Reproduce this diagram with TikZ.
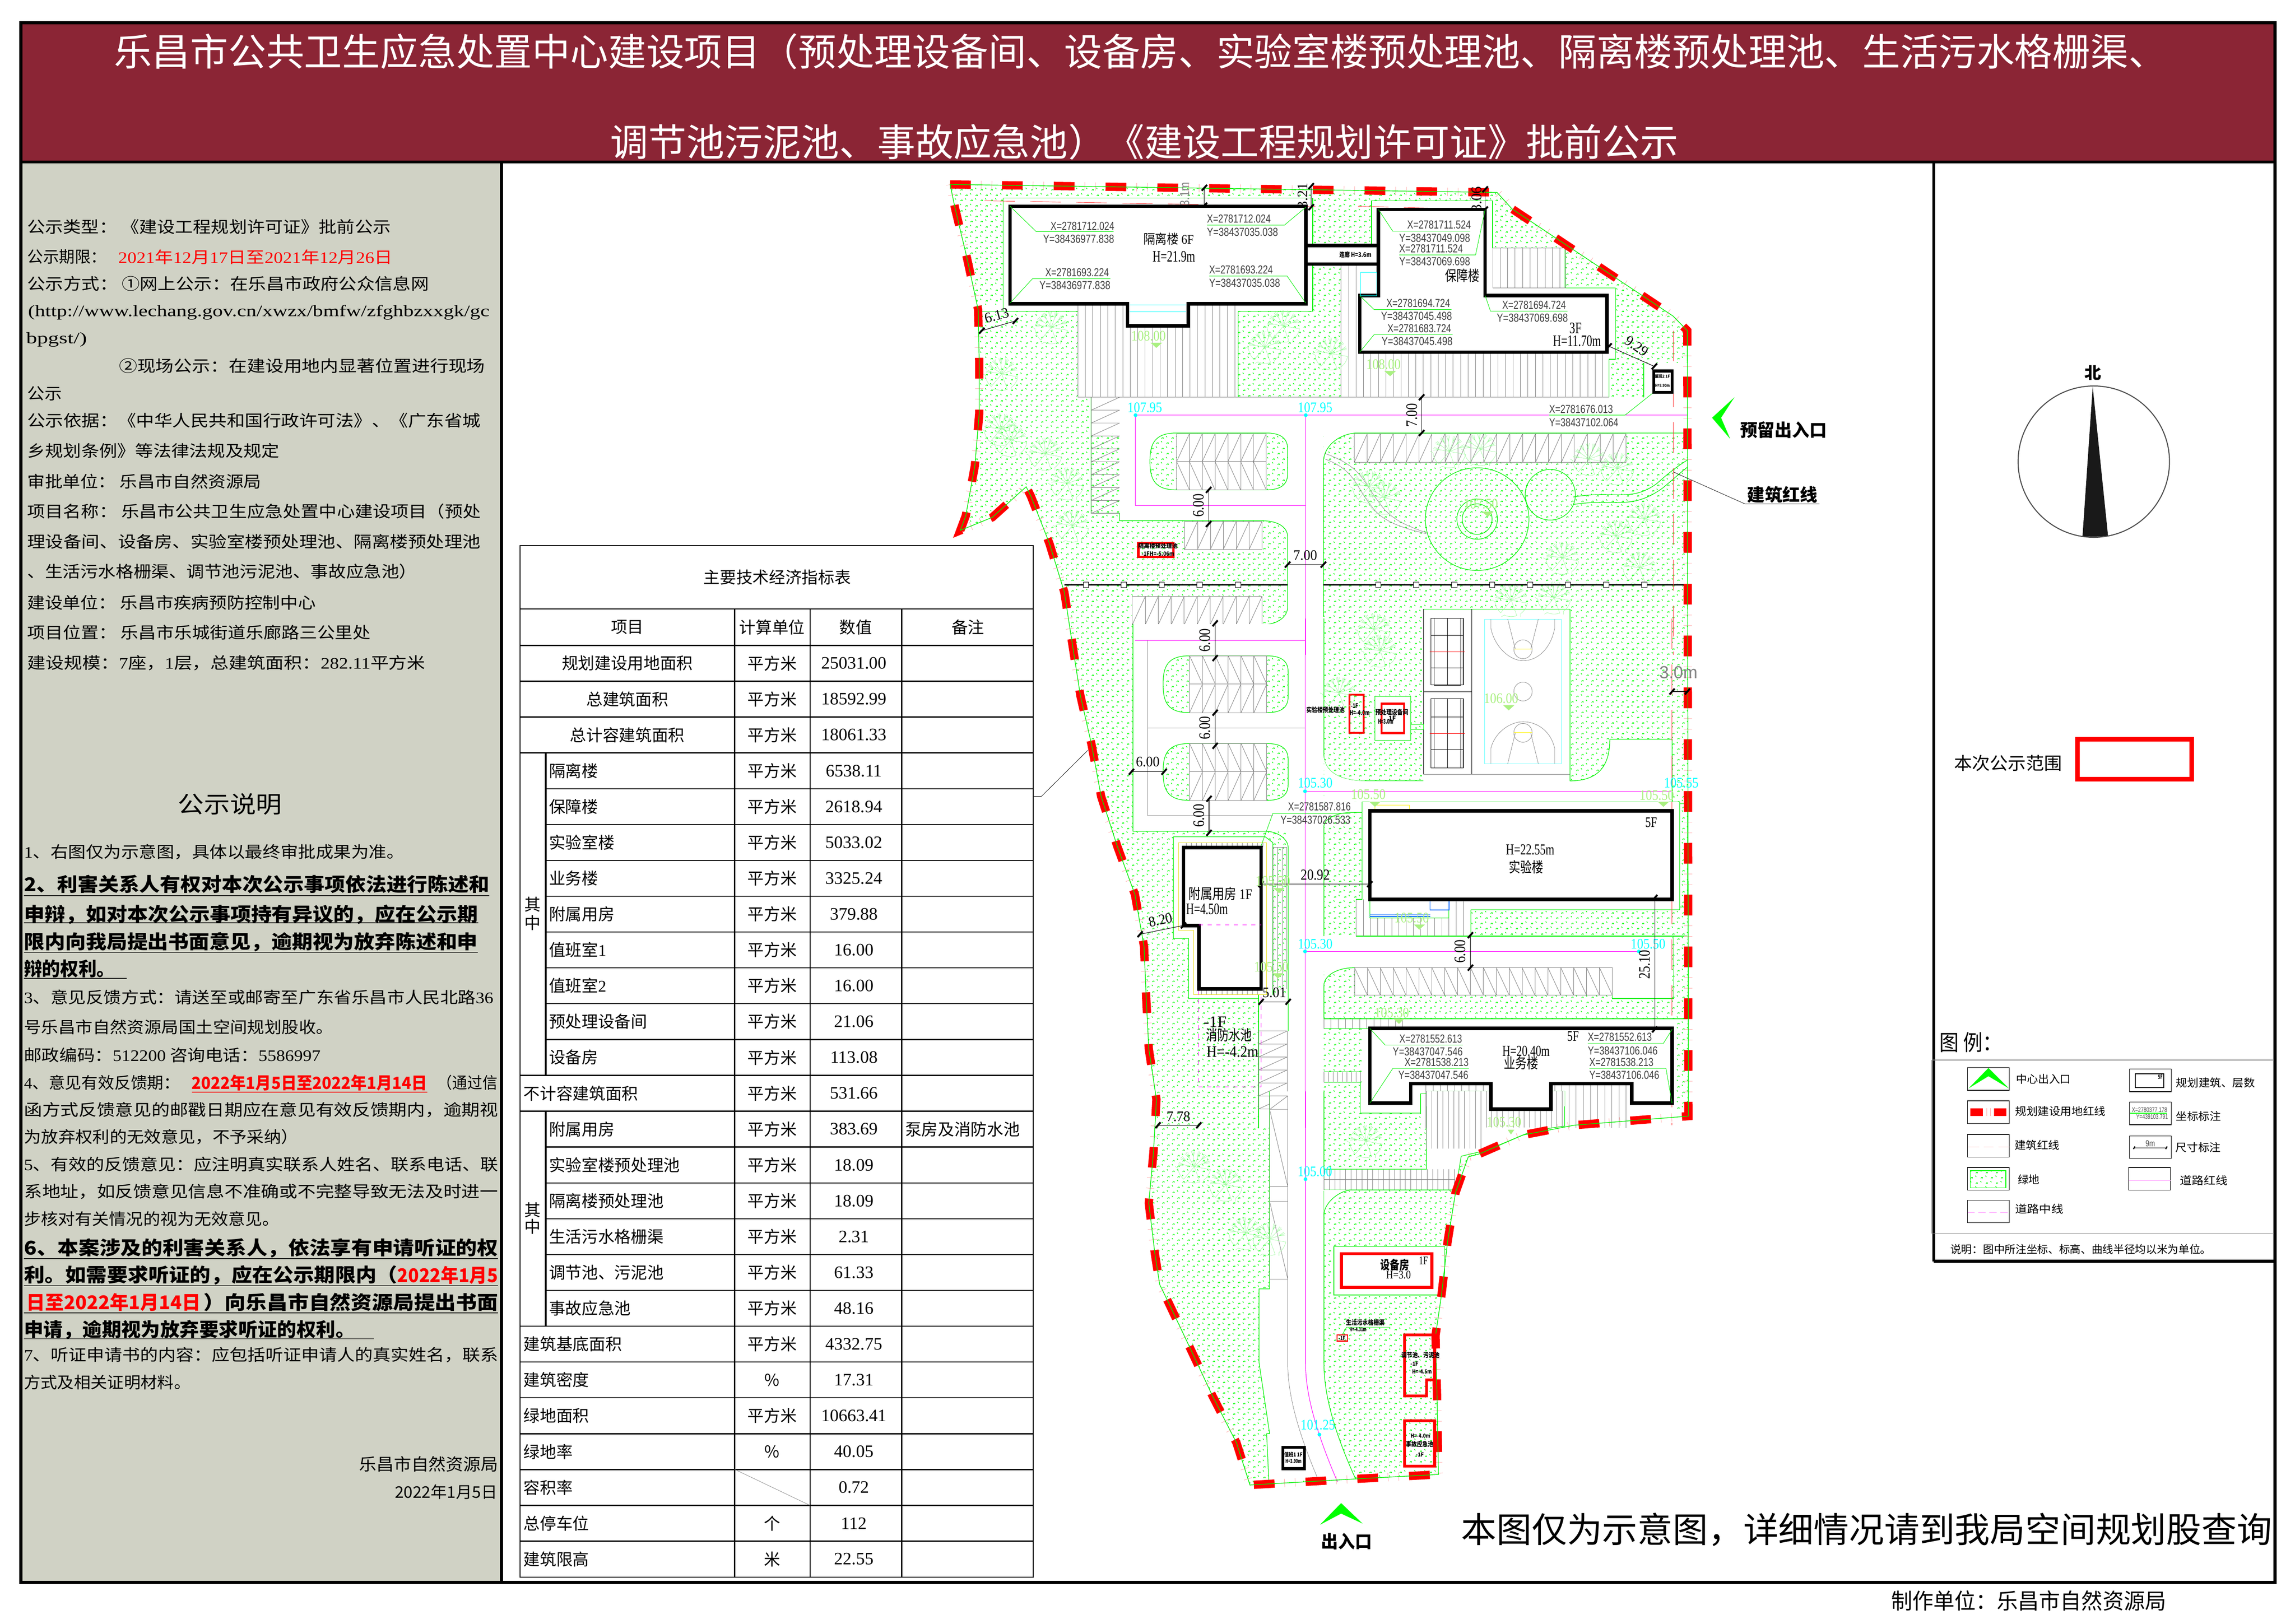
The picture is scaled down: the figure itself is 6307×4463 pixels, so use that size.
\documentclass[tikz,border=0pt]{standalone}
\usepackage{fontspec}
\usepackage{graphicx}
\usetikzlibrary{patterns}
\setmainfont{Noto Sans CJK SC}
\newfontfamily\lsf{Liberation Serif}
\newfontfamily\lss{Liberation Sans}
\definecolor{banner}{RGB}{139,37,53}
\definecolor{panel}{RGB}{208,210,197}
\definecolor{gline}{RGB}{0,240,0}
\definecolor{gtick}{RGB}{0,255,0}
\definecolor{gtxt}{RGB}{170,240,130}
\definecolor{tint}{RGB}{150,250,150}
\definecolor{mg}{RGB}{255,0,255}
\definecolor{cy}{RGB}{0,255,255}
\definecolor{pk}{RGB}{255,170,170}
\definecolor{grl}{RGB}{130,130,130}
\newlength\twl
\newcommand\dg[1]{{\lsf #1}}
\newcommand\tx[6][west]{\node[inner sep=0pt,outer sep=0pt,anchor=#1,font=\fontsize{#5}{#5}\selectfont] at (#2,#3) {\setlength\twl{#4pt}\setlength\twl{.25\twl}\resizebox{\twl}{\height}{\vphantom{国}#6}};}
\newcommand\txr[6]{\node[inner sep=0pt,outer sep=0pt,rotate=#3,font=\fontsize{#5}{#5}\selectfont] at (#1,#2) {\setlength\twl{#4pt}\setlength\twl{.25\twl}\resizebox{\twl}{\height}{#6}};}
\newcommand\cl[4]{\tx{#1}{#2}{#3}{8}{\lss\textcolor{black!75}{#4}}}
\newcommand\dimk[4]{\draw[black,line width=.35pt] (#1,#2)--(#3,#4);\draw[black,line width=1.3pt] (#1,#2)++(-5,9)--++(10,-18);\draw[black,line width=1.3pt] (#3,#4)++(-5,9)--++(10,-18);}
\newcommand\elev[2]{\fill[gtxt] (#1-11,#2-8)--(#1+11,#2-8)--(#1,#2+8)--cycle;}
\newcommand\cdt[2]{\fill[cy] (#1,#2) circle[radius=1.3pt];}
\newcommand\vst[5]{\pgfmathsetmacro\nx{#1+#5}\foreach \i in {#1,\nx,...,#2}{\draw[grl,line width=.25pt] (\i,#3)--(\i,#4);}}
\newcommand\parkg[6]{\draw[grl,line width=.3pt,fill=white] (#1,#2) rectangle (#3,#4);\pgfmathsetmacro\stp{(#3-#1)/#5}\pgfmathtruncatemacro\nn{#5-1}\foreach \k in {0,...,\nn}{\pgfmathsetmacro\xa{#1+\k*\stp}\draw[grl,line width=.3pt] (\xa,#2)--(\xa,#4);\pgfmathsetmacro\xt{\xa+(#6<0)*\stp}\pgfmathsetmacro\xu{\xa+(#6>0)*\stp}\draw[grl,line width=.3pt] (\xt,#2)--(\xu,#4);}}
\newcommand\island[6]{\draw[pattern=grasstick,pattern color=gtick,draw=gline,line width=.4pt] (#2,#5)..controls(#1+10,#5)and(#1,#5+30)..(#1,#5*.5+#6*.5)..controls(#1,#6-30)and(#1+10,#6)..(#2,#6)--(#3,#6)..controls(#4-10,#6)and(#4,#6-20)..(#4,#6-50)--(#4,#5+50)..controls(#4,#5+20)and(#4-10,#5)..(#3,#5)--cycle;}
\newcommand\treeS[3]{\foreach \a in {190,215,...,350}{\draw[tint,line width=.2pt] (#1,#2)--++(\a:#3*.6) coordinate(tt) --++(\a-15:#3*.38) (tt)--++(\a+15:#3*.38) (tt)--++(\a:#3*.4);}\foreach \a in {0,60,120}{\draw[tint,line width=.2pt] (#1,#2)--++(\a+10:#3) arc[start angle=\a+10,end angle=\a+55,radius=#3]--++(\a+90:#3*.2);}}
\pgfdeclarepatternformonly{grasstick}{\pgfpointorigin}{\pgfqpoint{7.08pt}{7.1pt}}{\pgfqpoint{7.08pt}{7.1pt}}{
 \pgfsetlinewidth{.42pt}
 \foreach \px/\py in {5.4/4.2,1.85/.65}{
  \pgfpathmoveto{\pgfpoint{\px pt}{\py pt}}\pgfpathlineto{\pgfpoint{\px pt+.6pt}{\py pt+.85pt}}
  \pgfpathmoveto{\pgfpoint{\px pt+1.1pt}{\py pt+.05pt}}\pgfpathlineto{\pgfpoint{\px pt+1.1pt}{\py pt+.85pt}}
  \pgfusepath{stroke}}
 \foreach \px/\py in {5.0/1.7,1.45/5.25}{
  \pgfpathmoveto{\pgfpoint{\px pt}{\py pt+.8pt}}\pgfpathlineto{\pgfpoint{\px pt+.65pt}{\py pt}}
  \pgfusepath{stroke}}
}
\tikzset{
 z2/.style={x=.36675pt,y=-.22325pt,shift={(625pt,-100pt)}},
 z3/.style={x=.35075pt,y=-.22325pt,shift={(650pt,-425pt)}},
 z4/.style={x=.20725pt,y=-.20725pt,shift={(750pt,-750pt)}},
 z5/.style={x=.1754pt,y=-.1115pt,shift={(1300pt,-700pt)}},
 wg/.style={fill=white,draw=gline,line width=.4pt},
 wp/.style={fill=white,draw=none},
 gl/.style={draw=gline,line width=.4pt},
 bld/.style={draw=black,line width=2.4pt,fill=white,line join=miter},
 rbld/.style={draw=red,line width=2pt,fill=none},
 mgl/.style={draw=mg,line width=.35pt},
 gry/.style={draw=grl,line width=.25pt},
 lead/.style={draw=gline,line width=.3pt},
 lbox/.style={draw=black,line width=.4pt,fill=white},
 bline/.style={draw={rgb,255:red,255;green,60;blue,60},line width=.28pt,dash pattern=on 21pt off 10.5pt}
}
\def\sitepath{(2611,507)--(4114,529)--(4155,574)--(4598,869)--(4637,909)--(4640,3068)--(4326,3093)--(4185,3120)--(4065,3172)--(4035,3180)--(4000,3278)--(3978,3414)--(3962,3555)--(3945,3671)--(3949,3829)--(3953,4053)--(3730,4065)--(3435,4082)--(3398,3966)--(3332,3837)--(3274,3713)--(3211,3580)--(3187,3531)--(3174,3448)--(3157,3307)--(3170,3166)--(3178,3022)--(3157,2883)--(3150,2745)--(3144,2602)--(3119,2459)--(3070,2325)--(3026,2189)--(3000,2048)--(2969,1912)--(2947,1771)--(2925,1628)--(2884,1494)--(2833,1364)--(2820,1338)--(2727,1422)--(2639,1458)--(2654,1418)--(2679,1280)--(2691,1137)--(2691,994)--(2688,851)--(2658,712)--(2625,574)--(2611,507)}
\newcommand\trow[5]{\pgfmathsetmacro\yy{1774+98.5*(#1+.5)}
 \ifcase#2\relax
  \node[inner sep=0pt,font=\fontsize{11.25}{13}\selectfont] at (1724,\yy) {#3};
 \or
  \node[inner sep=0pt,anchor=west,font=\fontsize{11.25}{13}\selectfont] at (1508,\yy) {#3};
 \or
  \node[inner sep=0pt,anchor=west,font=\fontsize{11.25}{13}\selectfont] at (1438,\yy) {#3};
 \fi
 \node[inner sep=0pt,font=\fontsize{11.25}{13}\selectfont] at (2122,\yy) {#4};
 \node[inner sep=0pt,font=\lsf\fontsize{12}{13}\selectfont] at (2347,\yy) {#5};}
\begin{document}
\begin{tikzpicture}[x=.25pt,y=-.25pt]
\useasboundingbox (0,0) rectangle (6307,4463);
\fill[white] (0,0) rectangle (6307,4463);
% frame and banner
\fill[banner] (58,64) rectangle (6250,442);
\fill[panel] (60,445) rectangle (1378,4350);
\draw[black,line width=2.2pt] (57,63) rectangle (6252,4350);
\draw[black,line width=2pt] (57,445)--(6252,445);
\draw[black,line width=2pt] (1378,445)--(1378,4350);
\draw[black,line width=2pt] (5314,445)--(5314,3467);
\draw[black,line width=2pt] (5314,3467)--(6252,3467);
\tx{314}{141}{5640}{26}{\textcolor{white}{乐昌市公共卫生应急处置中心建设项目（预处理设备间、设备房、实验室楼预处理池、隔离楼预处理池、生活污水格栅渠、}}
\tx{1677}{390}{2936}{26}{\textcolor{white}{调节池污泥池、事故应急池）《建设工程规划许可证》批前公示}}
% left panel, upper
\tx{75}{624}{999}{11}{公示类型：\ 《建设工程规划许可证》批前公示}
\tx{75}{706}{218}{11}{公示期限：}
\tx{325}{706}{754}{11}{\textcolor{red}{\dg{2021}年\dg{12}月\dg{17}日至\dg{2021}年\dg{12}月\dg{26}日}}
\tx{75}{780}{1104}{11}{公示方式：\ ①网上公示：在乐昌市政府公众信息网}
\tx{77}{857}{1268}{11}{\lsf(http://www.lechang.gov.cn/xwzx/bmfw/zfghbzxxgk/gc}
\tx{72}{932}{167}{11}{\lsf bpgst/)}
\tx{327}{1005}{1006}{11}{②现场公示：在建设用地内显著位置进行现场}
\tx{75}{1082}{95}{11}{公示}
\tx{75}{1156}{1246}{11}{公示依据：《中华人民共和国行政许可法》、《广东省城}
\tx{75}{1239}{693}{11}{乡规划条例》等法律法规及规定}
\tx{75}{1323}{643}{11}{审批单位：\ 乐昌市自然资源局}
\tx{75}{1406}{1246}{11}{项目名称：\ 乐昌市公共卫生应急处置中心建设项目（预处}
\tx{75}{1489}{1246}{11}{理设备间、设备房、实验室楼预处理池、隔离楼预处理池}
\tx{75}{1571}{1071}{11}{、生活污水格栅渠、调节池污泥池、事故应急池）}
\tx{75}{1656}{793}{11}{建设单位：\ 乐昌市疾病预防控制中心}
\tx{75}{1738}{944}{11}{项目位置：\ 乐昌市乐城街道乐廊路三公里处}
\tx{75}{1822}{1094}{11}{建设规模：\dg{7}座，\dg{1}层，总建筑面积：\dg{282.11}平方米}
% left panel, lower
\tx{489}{2210}{286}{16}{公示说明}
\tx{66}{2342}{1045}{11}{\dg{1}、右图仅为示意图，具体以最终审批成果为准。}
\tx{66}{2430}{1279}{13}{\bfseries 2、利害关系人有权对本次公示事项依法进行陈述和}
\tx{66}{2514}{1248}{13}{\bfseries 申辩，如对本次公示事项持有异议的，应在公示期}
\tx{66}{2589}{1247}{13}{\bfseries 限内向我局提出书面意见，逾期视为放弃陈述和申}
\tx{66}{2663}{250}{13}{\bfseries 辩的权利。}
\foreach \y/\a in {2462/1345,2537/1314,2618/1313,2689/348}{\draw[black,line width=.5pt] (66,\y)--(\a,\y);}
\tx{66}{2741}{1290}{11}{\dg{3}、意见反馈方式：请送至或邮寄至广东省乐昌市人民北路\dg{36}}
\tx{66}{2823}{850}{11}{号乐昌市自然资源局国土空间规划股收。}
\tx{66}{2900}{815}{11}{邮政编码：\dg{512200}\ 咨询电话：\dg{5586997}}
\tx{66}{2976}{429}{11}{\dg{4}、意见有效反馈期：}
\tx{527}{2976}{647}{11.5}{\bfseries\textcolor{red}{2022年1月5日至2022年1月14日}}
\draw[red,line width=.5pt] (527,3002)--(1174,3002);
\tx{1202}{2976}{165}{11}{（通过信}
\tx{66}{3051}{1303}{11}{函方式反馈意见的邮戳日期应在意见有效反馈期内，逾期视}
\tx{66}{3125}{754}{11}{为放弃权利的无效意见，不予采纳）}
\tx{66}{3200}{1303}{11}{\dg{5}、有效的反馈意见：应注明真实联系人姓名、联系电话、联}
\tx{66}{3275}{1303}{11}{系地址，如反馈意见信息不准确或不完整导致无法及时进一}
\tx{66}{3350}{702}{11}{步核对有关情况的视为无效意见。}
\tx{66}{3431}{1303}{13}{\bfseries 6、本案涉及的利害关系人，依法享有申请听证的权}
\tx{66}{3505}{1026}{13}{\bfseries 利。如需要求听证的，应在公示期限内（}
\tx{1092}{3505}{277}{13}{\bfseries\textcolor{red}{2022年1月5}}
\tx{73}{3580}{479}{13}{\bfseries\textcolor{red}{日至2022年1月14日}}
\tx{560}{3580}{809}{13}{\bfseries ）向乐昌市自然资源局提出书面}
\tx{66}{3655}{910}{13}{\bfseries 申请，逾期视为放弃要求听证的权利。}
\foreach \y/\a in {3460/1369,3534/1369,3609/1369,3680/1028}{\draw[black,line width=.5pt] (66,\y)--(\a,\y);}
\tx{66}{3724}{1303}{11}{\dg{7}、听证申请书的内容：应包括听证申请人的真实姓名，联系}
\tx{66}{3800}{458}{11}{方式及相关证明材料。}
\tx{987}{4025}{382}{11.5}{乐昌市自然资源局}
\tx{1085}{4101}{282}{11}{2022年1月5日}
% table
\draw[black,line width=.75pt] (1429,1500) rectangle (2839,4335);
\draw[black,line width=.75pt] (1429,1674)--(2839,1674);
\draw[black,line width=.75pt] (1429,1774)--(2839,1774);
\foreach \r in {1,...,25}{\pgfmathsetmacro\yy{1774+98.5*\r}
 \pgfmathsetmacro\xs{ifthenelse(or(and(\r>=4,\r<=11),and(\r>=14,\r<=18)),1500,1429)}
 \draw[black,line width=.75pt] (\xs,\yy)--(2839,\yy);}
\draw[black,line width=.75pt] (2019,1674)--(2019,4335) (2226,1674)--(2226,4335) (2478,1674)--(2478,4335);
\draw[black,line width=1.1pt] (1500,2069)--(1500,2955) (1500,3054)--(1500,3645);
\draw[grl,line width=.25pt] (2019,4039)--(2226,4138);
\node[inner sep=0pt,font=\fontsize{11.25}{13}\selectfont] at (2136,1587) {主要技术经济指标表};
\node[inner sep=0pt,font=\fontsize{11.25}{13}\selectfont] at (1724,1724) {项目};
\node[inner sep=0pt,font=\fontsize{11.25}{13}\selectfont] at (2122,1724) {计算单位};
\node[inner sep=0pt,font=\fontsize{11.25}{13}\selectfont] at (2352,1724) {数值};
\node[inner sep=0pt,font=\fontsize{11.25}{13}\selectfont] at (2660,1724) {备注};
\trow{0}{0}{规划建设用地面积}{平方米}{25031.00}
\trow{1}{0}{总建筑面积}{平方米}{18592.99}
\trow{2}{0}{总计容建筑面积}{平方米}{18061.33}
\trow{3}{1}{隔离楼}{平方米}{6538.11}
\trow{4}{1}{保障楼}{平方米}{2618.94}
\trow{5}{1}{实验室楼}{平方米}{5033.02}
\trow{6}{1}{业务楼}{平方米}{3325.24}
\trow{7}{1}{附属用房}{平方米}{379.88}
\trow{8}{1}{值班室\dg{1}}{平方米}{16.00}
\trow{9}{1}{值班室\dg{2}}{平方米}{16.00}
\trow{10}{1}{预处理设备间}{平方米}{21.06}
\trow{11}{1}{设备房}{平方米}{113.08}
\trow{12}{2}{不计容建筑面积}{平方米}{531.66}
\trow{13}{1}{附属用房}{平方米}{383.69}
\trow{14}{1}{实验室楼预处理池}{平方米}{18.09}
\trow{15}{1}{隔离楼预处理池}{平方米}{18.09}
\trow{16}{1}{生活污水格栅渠}{平方米}{2.31}
\trow{17}{1}{调节池、污泥池}{平方米}{61.33}
\trow{18}{1}{事故应急池}{平方米}{48.16}
\trow{19}{2}{建筑基底面积}{平方米}{4332.75}
\trow{20}{2}{建筑密度}{\%}{17.31}
\trow{21}{2}{绿地面积}{平方米}{10663.41}
\trow{22}{2}{绿地率}{\%}{40.05}
\trow{23}{2}{容积率}{}{0.72}
\trow{24}{2}{总停车位}{个}{112}
\trow{25}{2}{建筑限高}{米}{22.55}
\node[inner sep=0pt,anchor=west,font=\fontsize{11.25}{13}\selectfont] at (2487,3104) {泵房及消防水池};
\foreach \y/\t in {2486/其,2536/中,3326/其,3372/中}{\node[inner sep=0pt,font=\fontsize{11.25}{13}\selectfont] at (1464,\y) {\t};}
\draw[black,line width=.25pt] (2990,2062)--(2862,2189)--(2841,2189);
% site ground
\fill[pattern=grasstick,pattern color=gtick] \sitepath--cycle;
\begin{scope}[z2]
\draw[wg] (175,162) rectangle (755,510);
\fill[white] (135,490) rectangle (175,512);
\draw[wg] (865,170)--(1092,170)--(1092,316)--(1228,316)--(1228,438)--(1322,438)--(1322,658)--(1310,658)--(1310,775)--(808,775)--(808,368)--(755,368)--(755,305)--(865,305)--cycle;
\fill[wp] (315,490) rectangle (615,775);
\fill[wp] (1375,670) rectangle (1457,775);
\draw[gl] (135,510)--(315,510) (615,510)--(755,510) (615,510)--(615,775) (1375,670)--(1375,775);
\vst{315}{615}{490}{775}{14}
\vst{808}{1310}{640}{775}{14}
\vst{808}{840}{370}{640}{14}
\vst{1092}{1228}{316}{438}{14}
\draw[grl,line width=.25pt] (1092,316) rectangle (1228,438);
\fill[wp] (340,775) rectangle (1457,885);
\fill[wp] (393,885) rectangle (775,1155);
\fill[wp] (708,1155) rectangle (775,1568);
\fill[wp] (660,1155)--(708,1155)--(708,1205)..controls(708,1175)and(690,1155)..(660,1155)--cycle;
\fill[wp] (708,1420)..controls(708,1450)and(690,1475)..(660,1475)--(708,1475)--cycle;
\fill[wp] (775,885)--(835,885)..controls(800,890)and(775,930)..(775,975)--cycle;
\draw[gl] (775,1568)--(775,975)..controls(775,930)and(800,890)..(835,885)--(1457,885);
\draw[gl] (340,775)--(340,1132)--(393,1132)--(393,1155)--(660,1155)..controls(690,1155)and(708,1175)..(708,1205)--(708,1420)..controls(708,1450)and(690,1475)..(660,1475);
\draw[gry] (315,775)--(1310,775);
% west parking
\foreach \k in {0,...,8}{\pgfmathsetmacro\ya{775+39.7*\k}\pgfmathsetmacro\yb{\ya+39.7}\draw[grl,line width=.3pt] (340,\yb)--(393,\ya) (340,\yb)--(393,\yb);}
\draw[grl,line width=.3pt] (340,775)--(340,1132);
\island{450}{500}{668}{708}{885}{1060}
\parkg{500}{887}{668}{973}{7}{-14}
\parkg{500}{973}{668}{1060}{7}{14}
\parkg{833}{887}{1342}{975}{21}{-14}
\parkg{515}{1157}{660}{1243}{6}{-14}
\parkg{417}{1388}{660}{1475}{10}{-14}
% garden
\draw[gl] (1063,1150) ellipse[x radius=97,y radius=158];
\draw[gl] (1063,1150) ellipse[x radius=38,y radius=62];
\draw[gl] (1063,1150) ellipse[x radius=28,y radius=47];
\draw[gl] (1200,1075) ellipse[x radius=47,y radius=78];
\draw[gl] (1243,1082)..controls(1320,1060)and(1350,1100)..(1400,1040)..controls(1420,1010)and(1440,985)..(1457,968);
\draw[gl] (1243,1105)..controls(1320,1085)and(1350,1125)..(1410,1055)..controls(1425,1035)and(1445,1005)..(1457,990);
\draw[gry] (778,948)..controls(850,990)and(850,1040)..(880,1100)..controls(900,1150)and(930,1170)..(968,1192);
\draw[gry] (778,965)..controls(835,1000)and(835,1050)..(865,1110)..controls(885,1160)and(930,1180)..(968,1195);
\end{scope}
\begin{scope}[z3]
\fill[wp] (366,17) rectangle (705,655);
\fill[wp] (670,-5) rectangle (740,1568);
\draw[gl] (366,17)--(366,655)--(625,655)..controls(650,655)and(670,680)..(670,705)--(670,1270);
\draw[gl] (740,0)--(740,420)..controls(740,470)and(770,500)..(820,500)--(935,500);
\fill[wp] (740,420)..controls(740,470)and(770,500)..(820,500)--(820,565)--(740,565)--cycle;
\draw[wg] (935,-29) rectangle (1222,500);
\fill[wp] (935,480) rectangle (1222,500);
\fill[wp] (815,500) rectangle (1420,565);
\fill[wp] (1222,500)..controls(1280,500)and(1300,450)..(1300,372)--(1422,372)--(1422,565)--(1222,565)--cycle;
\draw[gl] (1222,-29)--(1222,500)..controls(1280,500)and(1300,450)..(1300,372)--(1422,372)--(1422,565);
\draw[gl] (820,565)--(815,565)--(815,590);
% east block details
\draw[black,line width=.3pt] (935,-29)--(935,480)--(1030,480)--(1030,-29) (935,225)--(1030,225);
\draw[gry] (935,480)--(1222,480);
\foreach \ya/\yb in {0/205,247/460}{
 \draw[black,line width=.35pt] (950,\ya) rectangle (1013,\yb);
 \draw[black,line width=.2pt] (956,\ya) rectangle (1008,\yb);
 \draw[black,line width=.3pt] (950,\ya*.5+\yb*.5-50)--(1013,\ya*.5+\yb*.5-50) (950,\ya*.5+\yb*.5+50)--(1013,\ya*.5+\yb*.5+50);
 \draw[black,line width=.2pt] (982,\ya)--(982,\yb);
 \draw[red,line width=.3pt] (947,\ya*.5+\yb*.5)--(1016,\ya*.5+\yb*.5);}
\draw[draw=cy!60!white,line width=.4pt] (1055,2) rectangle (1205,447);
\draw[gry] (1130,95) ellipse[x radius=18,y radius=29];
\draw[gry] (1130,225) ellipse[x radius=18,y radius=29];
\draw[gry] (1130,352) ellipse[x radius=18,y radius=29];
\draw[gry] (1067,2)--(1067,30)..controls(1075,90)and(1105,130)..(1130,130)..controls(1160,130)and(1185,90)..(1192,30)--(1192,2);
\draw[gry] (1067,447)--(1067,400)..controls(1075,350)and(1105,318)..(1130,318)..controls(1160,318)and(1185,350)..(1192,400)--(1192,447);
\draw[gry] (1100,2)--(1115,95) (1160,2)--(1145,95) (1100,447)--(1115,352) (1160,447)--(1145,352);
\draw[yellow,line width=.3pt] (1112,95)--(1148,95) (1112,352)--(1148,352);
\draw[wg] (840,240) rectangle (910,375);
\draw[gl] (910,326) rectangle (935,342);
\draw[red,line width=1.5pt] (853,262) rectangle (897,353);
\draw[red,line width=1.5pt] (790,235) rectangle (818,352);
% west islands
\island{425}{477}{628}{670}{115}{290}
\island{425}{477}{628}{670}{385}{560}
\parkg{477}{115}{628}{202}{6}{14}
\parkg{477}{202}{628}{290}{6}{-14}
\parkg{477}{385}{628}{472}{6}{14}
\parkg{477}{472}{628}{560}{6}{-14}
\draw[gry] (395,67)--(395,607)--(640,607) (395,337)--(703,337);
% lab block
\fill[wp] (740,565)--(815,565)--(815,597)--(790,597)..controls(760,600)and(740,620)..(740,640)--cycle;
\draw[gl] (740,978)--(740,640)..controls(740,620)and(760,600)..(790,597)--(815,597);
\draw[wg] (815,565)--(1437,565)--(1437,897)--(1028,897)--(1028,978)--(803,978)--(803,865)--(815,865)--cycle;
\draw[gl] (1437,570)--(1452,570)--(1452,888)--(1437,888);
\fill[wp] (740,978) rectangle (1422,1075);
\fill[wp] (740,1130)..controls(740,1100)and(765,1075)..(800,1075)--(740,1075)--cycle;
\fill[wp] (1305,1075)--(1422,1075)--(1422,1170)--(1305,1170)--cycle;
\draw[gl] (803,978)--(1452,978);
\draw[gl] (740,1232)--(740,1130)..controls(740,1100)and(765,1075)..(800,1075);
\draw[gl] (1305,1160)--(1305,1170)--(1425,1170)--(1425,978);
\parkg{800}{1075}{1305}{1160}{20}{14}
\vst{803}{1025}{865}{978}{14}
\draw[wg] (830,870) rectangle (985,922);
\draw[blue!60!cy,line width=.5pt] (830,912)--(948,912) (830,917)--(948,917);
\draw[draw=blue!60!cy,line width=.5pt] (948,870) rectangle (985,897);
\draw[draw=yellow,line width=.3pt] (840,592)--(840,574)--(907,574)--(907,592);
% attached building ground
\draw[wg] (445,672)--(625,672)--(640,690)--(640,1170)--(475,1170)--(475,985)--(445,985)--cycle;
\vst{640}{668}{705}{1140}{9}
\draw[grl,line width=.25pt] (640,705)--(668,705);
\foreach \t in {470,480,...,620}{\draw[grl,line width=.2pt] (\t,690)--(\t,704);}
\foreach \t in {500,510,...,610}{\draw[grl,line width=.2pt] (\t,1141)--(\t,1157);}
\draw[yellow!90!black,line width=.35pt] (455,690)--(628,690)--(628,1158)--(485,1158)--(485,960)--(455,960)--cycle;
% below attached building
\fill[wp] (612,1158) rectangle (670,1568);
\draw[gl] (612,1158)--(612,1568);
\foreach \k in {0,...,5}{\pgfmathsetmacro\ya{1270+40*\k}\pgfmathsetmacro\yb{\ya+40}\draw[grl,line width=.3pt] (612,\yb)--(668,\ya) (612,\yb)--(668,\yb);}
\draw[grl,line width=.3pt] (612,1270)--(668,1270) (612,1270)--(612,1510) (668,1270)--(668,1510);
\draw[mg,dashed,line width=.4pt] (495,1145)--(495,1442)--(617,1442)--(617,1158);
% business building ground
\fill[wp] (740,1232) rectangle (1430,1262);
\draw[gl] (740,1232)--(1452,1232);
\vst{740}{903}{1232}{1262}{14}
\draw[gry] (740,1262)--(903,1262);
\fill[wp] (815,1262) rectangle (1430,1500);
\draw[gl] (740,1262)--(830,1262);
\draw[wg] (740,1395) rectangle (812,1428);
\vst{740}{812}{1395}{1428}{9}
\draw[gl] (812,1428)--(812,1525)--(930,1525)--(930,1465)--(940,1465);
\fill[wp] (930,1430)--(1340,1430)--(1340,1500)--(1422,1500)--(1445,1535)--(1210,1568)--(930,1568)--cycle;
\vst{940}{1340}{1432}{1568}{14}
\end{scope}
\begin{scope}[z4]
\draw[wg] (1110,0)--(1568,0)--(1568,115)--(1465,130)--(1310,195)--(1225,215)--(1207,327)--(770,327)--(770,258)--(1110,258)--cycle;
\fill[wp] (1111,0) rectangle (1568,50);
\vst{1110}{1560}{0}{120}{18}
\vst{1110}{1300}{120}{190}{18}
\vst{770}{1205}{258}{327}{18}
\draw[gry] (770,293)--(1205,293);
\draw[wg] (890,-5)--(890,72)--(1090,72)--(1090,8)--(1110,8);
\fill[wp] (590,0)--(650,0)--(650,900)..controls(650,1000)and(680,1120)..(750,1285)--(588,1305)--(580,1135)--(590,1135)--(555,900)--(555,655)--(590,655)--cycle;
\fill[wp] (770,0) rectangle (650,1000);
\fill[wp] (650,900)..controls(650,1000)and(680,1120)..(750,1285)--(875,1285)..controls(800,1120)and(770,1000)..(770,900)--cycle;
\draw[gl] (590,0)--(590,655)--(555,655)--(555,900)--(590,1135)--(580,1135)--(588,1305);
\draw[gry] (650,622)--(650,900)..controls(650,1000)and(680,1120)..(750,1285);
\draw[gl] (770,258)--(770,0) (770,330)--(770,900)..controls(770,1000)and(800,1120)..(875,1285);
\fill[wp] (770,327)--(855,327)..controls(810,335)and(770,375)..(770,410)--cycle;
\draw[gl] (770,410)..controls(770,375)and(810,335)..(855,327)--(1207,327);
\draw[grl,line width=.3pt] (590,15) rectangle (650,622);
\draw[grl,line width=.3pt] (590,60)--(650,60) (590,315)--(650,315) (590,365)--(650,365) (590,60)--(650,315) (590,365)--(650,622) (590,60)--(590,15)--(650,15) (590,60)--(650,15);
\draw[wg] (803,515) rectangle (1170,675);
\draw[rbld] (828,538) rectangle (1128,650);
\end{scope}
% trees
\foreach \x/\y in {2889/900,3527/896,3476/954,2753/1028,2777/1210,2750/1180,2873/1248,2933/1329,2947/1445,3659/972,3762/1338,3805/1369,4294/1534,4441/1474,4519/1427,4506/1561,4445/1288,4367/1262,3983/1241,4068/1235,4153/1650,4271/1643,3776/1730,3793/1789,3680/1905,3282/3207,3369/3257,3423/3390,3489/3406,3754/3137}{\treeS{\x}{\y}{45}}
% magenta road lines
\begin{scope}[z2]
\draw[mgl] (423,830)--(1457,830) (423,830)--(423,1108)--(742,1108) (742,830)--(742,1568);
\cdt{423}{830}\cdt{742}{830}
\end{scope}
\begin{scope}[z3]
\draw[mgl] (370,67)--(703,67) (703,0)--(703,1568) (703,532)--(1420,532) (703,1025)--(1360,1025);
\cdt{703}{532}\cdt{703}{1025}\cdt{1357}{1025}
\end{scope}
\begin{scope}[z4]
\draw[mgl] (709,0)--(709,900)..controls(709,1000)and(740,1120)..(815,1295);
\cdt{709}{291}\cdt{755}{1138}
\end{scope}
% axis line, building line
\begin{scope}[z2]
\draw[black,line width=.8pt] (290,1352)--(708,1352) (775,1352)--(1457,1352);
\foreach \x in {330,401,472,543,615,878,949,1020,1091,1162,1233,1305,1376}{\draw[fill=white,draw=black,line width=.25pt] (\x-5,1344) rectangle (\x+5,1360);}
\draw[bline] (140,170)--(760,188);
\draw[bline] (840,187)--(1075,197);
\draw[bline] (1430,570)--(1430,1568);
\end{scope}
\begin{scope}[z3]
\draw[bline] (1422,0)--(1422,1560);
\end{scope}
% site boundary
\draw[pk,line width=5.7pt,dash pattern=on .3pt off 7pt on .3pt off 28pt,dash phase=14.35pt] \sitepath;
\draw[red,line width=5.7pt,dash pattern=on 14.25pt off 21.35pt] \sitepath;
\draw[gline,line width=.45pt] \sitepath;
% buildings north
\begin{scope}[z2]
\txr{515}{150}{90}{65}{9}{\lss\textcolor{grl}{3.1m}}
\dimk{552}{130}{552}{185}
\txr{736}{155}{90}{70}{10}{\lsf 3.21}
\txr{1062}{165}{90}{70}{10}{\lsf 3.06}
\dimk{752}{125}{752}{190}
\dimk{1078}{135}{1078}{197}
\draw[bld] (742,308) rectangle (878,365);
\draw[bld] (188,187)--(742,187)--(742,487)--(522,487)--(522,555)--(408,555)--(408,487)--(188,487)--cycle;
\draw[draw=cy,line width=.3pt] (412,490)--(518,490) (412,512)--(518,512);
\draw[bld] (878,197)--(1078,197)--(1078,462)--(1306,462)--(1306,636)--(843,636)--(843,462)--(878,462)--cycle;
\draw[draw=cy,line width=.3pt] (845,390) rectangle (875,462);
\draw[lead] (188,187)--(237,265)--(382,265) (742,190)--(702,245)--(557,245) (188,485)--(230,410)--(376,410) (742,485)--(707,402)--(561,402);
\draw[lead] (878,197)--(905,264)--(1050,264) (1078,197)--(1060,337)--(917,337) (843,462)--(870,505)--(1015,505) (843,636)--(870,582)--(1017,582) (1078,462)--(1088,510)--(1232,510) (1392,762)--(1340,830)--(1198,830);
\cl{264}{247}{175}{X=2781712.024}
\cl{250}{287}{195}{Y=38436977.838}
\cl{557}{225}{175}{X=2781712.024}
\cl{557}{266}{195}{Y=38437035.038}
\cl{254}{390}{175}{X=2781693.224}
\cl{243}{430}{195}{Y=38436977.838}
\cl{561}{382}{175}{X=2781693.224}
\cl{561}{423}{195}{Y=38437035.038}
\cl{932}{243}{175}{X=2781711.524}
\cl{917}{284}{195}{Y=38437049.098}
\cl{917}{317}{175}{X=2781711.524}
\cl{917}{357}{195}{Y=38437069.698}
\cl{893}{485}{175}{X=2781694.724}
\cl{883}{525}{195}{Y=38437045.498}
\cl{895}{562}{175}{X=2781683.724}
\cl{884}{602}{195}{Y=38437045.498}
\cl{1110}{490}{175}{X=2781694.724}
\cl{1100}{530}{195}{Y=38437069.698}
\cl{1198}{811}{175}{X=2781676.013}
\cl{1198}{852}{190}{Y=38437102.064}
\tx{438}{287}{138}{9}{隔离楼\ \dg{6F}}
\tx{455}{340}{117}{11}{\lsf H=21.9m}
\tx{805}{336}{88}{4.5}{\bfseries 连廊\ H=3.6m}
\tx{1003}{400}{95}{10}{保障楼}
\tx{1236}{560}{33}{11}{\lsf 3F}
\tx{1205}{600}{132}{11}{\lsf H=11.70m}
\draw[bld,line width=2pt] (1394,694) rectangle (1428,760);
\tx[center]{1410}{711}{42}{2.8}{\bfseries 值班2 1F}
\tx[center]{1410}{739}{40}{2.8}{\bfseries H=3.90m}
\draw[red,line width=1.8pt] (428,1224) rectangle (494,1266);
\tx[center]{465}{1233}{108}{4}{\bfseries 隔离楼预处理池}
\tx[center]{465}{1257}{90}{4}{\bfseries -1FH=-5.06m}
\tx{415}{585}{95}{10}{\lsf\textcolor{gtxt}{108.00}}\elev{462}{615}
\tx{855}{672}{95}{10}{\lsf\textcolor{gtxt}{108.00}}\elev{900}{702}
\tx{408}{805}{95}{10}{\lsf\textcolor{cy}{107.95}}
\tx{727}{805}{95}{10}{\lsf\textcolor{cy}{107.95}}
\tx[center]{1070}{1102}{94}{10}{\lsf\textcolor{gtxt}{107.50}}\elev{1083}{1135}
\txr{941}{830}{90}{64}{11}{\lsf 7.00}\dimk{959}{775}{959}{885}
\txr{541}{1108}{90}{64}{11}{\lsf 6.00}\dimk{560}{1060}{560}{1165}
\tx[center]{741}{1260}{65}{10}{\lsf 7.00}\dimk{708}{1290}{775}{1290}
\txr{163}{523}{15}{68}{10}{\lsf 6.13}\dimk{135}{570}{198}{540}
\txr{1362}{618}{-35}{68}{10}{\lsf 9.29}\dimk{1310}{618}{1395}{680}
\end{scope}
\begin{scope}[z3]
\draw[bld] (830,592) rectangle (1422,865);
\draw[bld] (465,705)--(617,705)--(617,1140)--(495,1140)--(495,945)--(465,945)--cycle;
\draw[mg,dashed,line width=.35pt] (495,943)--(617,943);
\draw[bld] (830,1262)--(1422,1262)--(1422,1492)--(1343,1492)--(1343,1432)--(1185,1432)--(1185,1510)--(1067,1510)--(1067,1432)--(910,1432)--(910,1492)--(830,1492)--cycle;
\draw[lead] (830,1262)--(860,1313)--(1012,1313) (830,1492)--(875,1385)--(1024,1385) (1422,1265)--(1405,1308)--(1257,1308) (1422,1492)--(1410,1385)--(1260,1385) (617,700)--(640,600)--(792,600);
\txr{507}{67}{90}{64}{11}{\lsf 6.00}\dimk{527}{15}{527}{122}
\txr{507}{337}{90}{64}{11}{\lsf 6.00}\dimk{527}{290}{527}{392}
\tx[center]{395}{440}{65}{10}{\lsf 6.00}\dimk{363}{472}{427}{472}
\txr{495}{607}{90}{64}{11}{\lsf 6.00}\dimk{515}{555}{515}{660}
\tx[center]{723}{505}{95}{10}{\lsf\textcolor{cy}{105.30}}
\tx[center]{827}{540}{95}{10}{\lsf\textcolor{gtxt}{105.50}}\elev{840}{572}
\tx[center]{1440}{505}{95}{10}{\lsf\textcolor{cy}{105.55}}
\tx[center]{1392}{543}{95}{10}{\lsf\textcolor{gtxt}{105.50}}\elev{1405}{572}
\cl{670}{579}{172}{X=2781587.816}
\cl{655}{619}{192}{Y=38437026.533}
\tx[center]{1435}{165}{105}{12}{\lss\textcolor{grl}{3.0m}}\dimk{1422}{225}{1452}{225}
\tx[center]{1087}{245}{95}{10}{\lsf\textcolor{gtxt}{106.00}}\elev{1102}{275}
\tx[center]{1381}{627}{32}{10}{\lsf 5F}
\tx[center]{1144}{710}{133}{10.5}{\lsf H=22.55m}
\tx[center]{1136}{765}{95}{10}{实验楼}
\tx[center]{723}{788}{80}{10.5}{\lsf 20.92}\dimk{617}{818}{830}{818}
\tx[center]{537}{847}{175}{10}{附属用房\ \dg{1F}}
\tx[center]{511}{893}{115}{11}{\lsf H=4.50m}
\tx[center]{640}{807}{95}{10}{\lsf\textcolor{gtxt}{105.50}}\elev{652}{838}
\txr{420}{928}{13}{66}{10}{\lsf 8.20}\dimk{380}{972}{465}{945}
\tx[center]{912}{920}{95}{10}{\lsf\textcolor{gtxt}{105.50}}\elev{927}{950}
\tx[center]{723}{1000}{95}{10}{\lsf\textcolor{cy}{105.30}}
\tx[center]{1375}{1000}{95}{10}{\lsf\textcolor{cy}{105.50}}
\txr{1007}{1025}{90}{64}{11}{\lsf 6.00}\dimk{1027}{975}{1027}{1075}
\txr{1368}{1065}{90}{80}{11}{\lsf 25.10}\dimk{1388}{860}{1388}{1265}
\tx[center]{637}{1072}{95}{10}{\lsf\textcolor{gtxt}{105.50}}\elev{650}{1100}
\tx[center]{643}{1150}{65}{10}{\lsf 5.01}\dimk{617}{1180}{670}{1180}
\tx[center]{527}{1240}{63}{11}{\lsf -1F}
\tx[center]{554}{1282}{125}{10}{消防水池}
\tx[center]{561}{1333}{143}{11}{\lsf H=-4.2m}
\tx[center]{873}{1212}{95}{10}{\lsf\textcolor{gtxt}{105.30}}\elev{887}{1240}
\tx[center]{1228}{1285}{32}{10}{\lsf 5F}
\cl{888}{1293}{172}{X=2781552.613}
\cl{875}{1333}{192}{Y=38437047.546}
\cl{898}{1365}{176}{X=2781538.213}
\cl{886}{1405}{192}{Y=38437047.546}
\cl{1257}{1288}{176}{X=2781552.613}
\cl{1257}{1330}{192}{Y=38437106.046}
\cl{1260}{1365}{176}{X=2781538.213}
\cl{1260}{1405}{192}{Y=38437106.046}
\tx[center]{1136}{1330}{130}{10.5}{\lsf H=20.40m}
\tx[center]{1126}{1368}{95}{10}{业务楼}
\tx[center]{455}{1532}{65}{10}{\lsf 7.78}\dimk{415}{1560}{495}{1560}
\tx[center]{743}{282}{105}{4.5}{\bfseries 实验楼预处理池}
\tx[center]{800}{269}{20}{4.5}{\bfseries -1F}
\tx[center]{810}{291}{55}{4.5}{\bfseries H=-4.0m}
\tx[center]{873}{289}{90}{4.5}{\bfseries 预处理设备间}
\tx[center]{874}{308}{20}{4.5}{\bfseries 1F}
\tx[center]{861}{318}{42}{4.5}{\bfseries H=3.0m}
\end{scope}
\begin{scope}[z4]
\tx[center]{740}{265}{95}{10}{\lsf\textcolor{cy}{105.00}}
\tx[center]{750}{1105}{95}{10}{\lsf\textcolor{cy}{101.25}}
\tx[center]{1367}{100}{95}{10}{\lsf\textcolor{gtxt}{105.30}}\elev{1390}{135}
\draw[black,line width=1.9pt] (634,1180) rectangle (706,1251);
\tx[center]{669}{1204}{50}{3.8}{\bfseries 值班1 1F}
\tx[center]{669}{1226}{44}{3.8}{\bfseries H=3.90m}
\tx[center]{1005}{575}{78}{8.5}{\bfseries 设备房}
\tx[center]{1100}{560}{25}{8}{\lsf 1F}
\tx[center]{1017}{607}{68}{8}{\lsf H=3.0}
\tx[center]{907}{767}{106}{4.5}{\bfseries 生活污水格栅渠}
\tx[center]{883}{790}{46}{3.8}{\bfseries H=-4.31m}
\draw[lead] (990,782)--(845,782)--(830,808);
\draw[red,line width=.7pt] (813,808) rectangle (848,828);
\tx[center]{830}{819}{18}{3.8}{\bfseries -1F}
\draw[rbld] (1037,807)--(1137,807)--(1137,957)--(1110,957)--(1110,1010)--(1037,1010)--cycle;
\tx[center]{1090}{875}{105}{4.5}{\bfseries 调节池、污泥池}
\tx[center]{1070}{903}{22}{3.8}{\bfseries -1F}
\tx[center]{1095}{930}{54}{3.8}{\bfseries H=-4.5m}
\draw[rbld] (1037,1092) rectangle (1137,1243);
\tx[center]{1090}{1142}{54}{3.8}{\bfseries H=-4.0m}
\tx[center]{1087}{1170}{75}{4.5}{\bfseries 事故应急池}
\tx[center]{1088}{1205}{22}{3.8}{\bfseries -1F}
\fill[green] (757,1437)--(827,1365)--(898,1433)--(827,1400)--cycle;
\tx[center]{845}{1492}{139}{12}{\bfseries 出入口}
\end{scope}
\begin{scope}[z2]
\fill[green] (1545,775)--(1503,838)--(1537,903)--(1520,838)--cycle;
\end{scope}
\tx{4782}{1182}{238}{12}{\bfseries 预留出入口}
\tx{4802}{1359}{193}{12}{\bfseries 建筑红线}
\draw[black,line width=.25pt] (4598,1297)--(4795,1385)--(5000,1385);
% north and scope key
\draw[grl!60!black,line width=.7pt] (5754,1269) circle[radius=208];
\fill[black!90] (5751,1063)--(5793,1472)..controls(5775,1476)and(5745,1476)..(5723,1474)--cycle;
\tx[center]{5751}{1024}{46}{11}{\bfseries 北}
\tx{5370}{2098}{297}{12}{本次公示范围}
\draw[red,line width=3.25pt] (5709,2032) rectangle (6023,2142);
% legend
\tx{5330}{2865}{172}{15}{图\ 例：}
\begin{scope}[z5]
\draw[grl,line width=.5pt] (155,255)--(1492,255);
\draw[grl,line width=.25pt] (155,255)--(155,1322)--(1492,1322);
\foreach \a/\b in {302/442,507/647,713/853,917/1057,1120/1258}{\draw[lbox] (295,\a) rectangle (459,\b);}
\foreach \a/\b in {311/450,515/654,723/862}{\draw[lbox] (929,\a) rectangle (1093,\b);}
\draw[lbox] (926,917) rectangle (1090,1057);
\fill[green] (299,430)--(377,304)--(457,430)--(377,355)--cycle;
\fill[red] (306,553) rectangle (355,600) (399,553) rectangle (447,600);
\draw[pk,line width=.25pt] (370,553)--(370,600) (384,553)--(384,600);
\draw[pk,line width=.3pt] (295,792)--(340,792) (358,792)--(397,792) (416,792)--(459,792);
\draw[green,line width=.4pt,pattern=grasstick,pattern color=gtick] (306,937) rectangle (445,1043);
\draw[mg!40,line width=.3pt,dash pattern=on 5pt off 2.5pt] (295,1195)--(459,1195);
\draw[black,line width=.6pt] (952,340) rectangle (1064,426);
\tx[center]{1050}{360}{12}{4}{\bfseries 5F}
\tx[center]{1008}{563}{97}{4.5}{\lss\textcolor{black!70}{X=2780377.178}}
\draw[green,line width=.4pt] (932,583)--(1077,583);
\tx[center]{1018}{605}{87}{4.5}{\lss\textcolor{black!70}{Y=439103.791}}
\tx[center]{1011}{768}{26}{6}{\lss\textcolor{black!70}{9m}}
\draw[black,line width=.25pt] (947,796)--(1074,796);
\draw[black,line width=.8pt] (945,804)--(951,788) (1071,804)--(1077,788);
\draw[mg!40,line width=.35pt] (926,998)--(1090,998);
\tx{485}{373}{151}{7.5}{中心出入口}
\tx{482}{570}{248}{7.5}{规划建设用地红线}
\tx{480}{780}{123}{7.5}{建筑红线}
\tx{492}{992}{60}{7.5}{绿地}
\tx{482}{1173}{132}{7.5}{道路中线}
\tx{1112}{396}{217}{7.5}{规划建筑、层数}
\tx{1112}{600}{123}{7.5}{坐标标注}
\tx{1110}{793}{124}{7.5}{尺寸标注}
\tx{1128}{998}{130}{7.5}{道路红线}
\tx{228}{1422}{717}{7.5}{说明：图中所注坐标、标高、曲线半径均以米为单位。}
\end{scope}
\tx{4016}{4205}{2228}{24}{本图仅为示意图，详细情况请到我局空间规划股查询}
\tx{5197}{4400}{756}{15}{制作单位：乐昌市自然资源局}
\end{tikzpicture}
\end{document}
